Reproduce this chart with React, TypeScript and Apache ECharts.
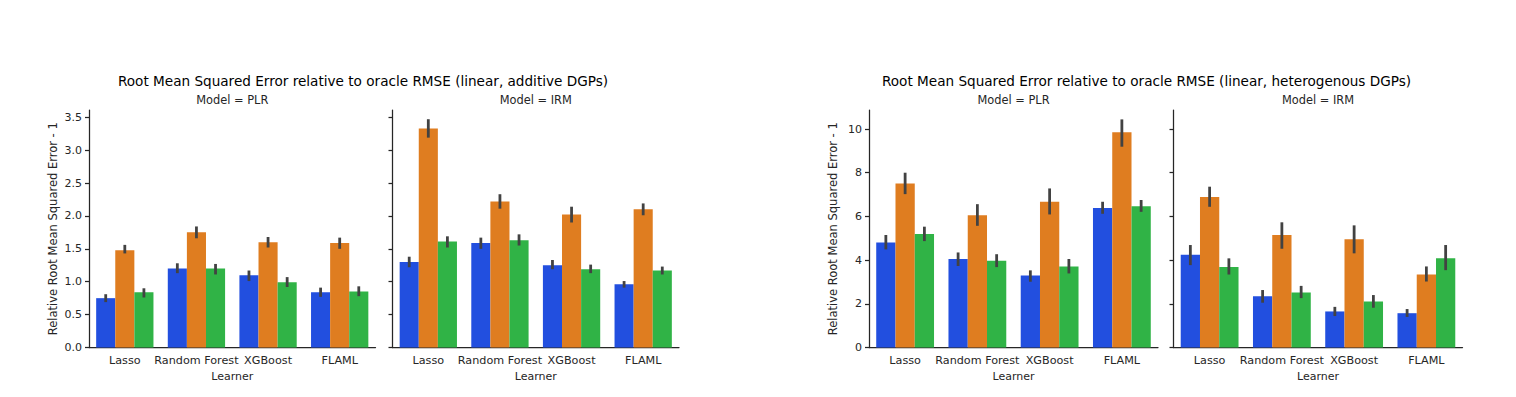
import React, { useEffect, useRef } from "react";
import * as echarts from "echarts";

const learners = ["Lasso", "Random Forest", "XGBoost", "FLAML"];
const hueNames = ["Group 1", "Group 2", "Group 3"];
const hueColors = ["#224fdf", "#df7d20", "#30b346"];

// additive DGPs, PLR
const addPlrMean = [
  [0.75, 1.2, 1.1, 0.84],
  [1.48, 1.75, 1.6, 1.59],
  [0.84, 1.2, 0.99, 0.85],
];
const addPlrLo = [
  [0.69, 1.13, 1.01, 0.77],
  [1.43, 1.66, 1.52, 1.5],
  [0.76, 1.11, 0.92, 0.78],
];
const addPlrHi = [
  [0.81, 1.28, 1.17, 0.91],
  [1.56, 1.84, 1.68, 1.67],
  [0.9, 1.27, 1.07, 0.93],
];
// additive DGPs, IRM
const addIrmMean = [
  [1.3, 1.59, 1.25, 0.96],
  [3.33, 2.22, 2.02, 2.1],
  [1.61, 1.63, 1.19, 1.17],
];
const addIrmLo = [
  [1.22, 1.5, 1.19, 0.91],
  [3.19, 2.11, 1.9, 2.01],
  [1.52, 1.55, 1.13, 1.11],
];
const addIrmHi = [
  [1.38, 1.67, 1.33, 1.01],
  [3.47, 2.33, 2.14, 2.19],
  [1.69, 1.72, 1.26, 1.23],
];
// heterogenous DGPs, PLR
const hetPlrMean = [
  [4.81, 4.05, 3.3, 6.38],
  [7.51, 6.05, 6.67, 9.85],
  [5.19, 3.97, 3.71, 6.46],
];
const hetPlrLo = [
  [4.49, 3.73, 3.01, 6.12],
  [7.02, 5.57, 6.09, 9.19],
  [4.87, 3.68, 3.39, 6.21],
];
const hetPlrHi = [
  [5.15, 4.35, 3.53, 6.67],
  [8.0, 6.56, 7.28, 10.44],
  [5.53, 4.27, 4.05, 6.75],
];
// heterogenous DGPs, IRM
const hetIrmMean = [
  [4.24, 2.34, 1.65, 1.57],
  [6.89, 5.15, 4.96, 3.34],
  [3.68, 2.52, 2.11, 4.09],
];
const hetIrmLo = [
  [3.77, 2.05, 1.44, 1.4],
  [6.44, 4.52, 4.31, 3.02],
  [3.34, 2.26, 1.82, 3.54],
];
const hetIrmHi = [
  [4.69, 2.63, 1.86, 1.76],
  [7.36, 5.73, 5.59, 3.71],
  [4.08, 2.82, 2.4, 4.69],
];

const leftTicks = [0, 0.5, 1, 1.5, 2, 2.5, 3, 3.5];
const rightTicks = [0, 2, 4, 6, 8, 10];

const titles = [
  "Root Mean Squared Error relative to oracle RMSE (linear, additive DGPs)",
  "Root Mean Squared Error relative to oracle RMSE (linear, heterogenous DGPs)",
];
const panelTitles = ["Model = PLR", "Model = IRM", "Model = PLR", "Model = IRM"];

const FONT = "DejaVu Sans";
const INK = "#262626";

export default function App() {
  const ref = useRef<HTMLDivElement>(null);
  useEffect(() => {
    document.body.style.margin = "0";
    const chart = echarts.init(ref.current!, null, { renderer: "svg" });

    const panels = [
      { left: 89, width: 286.5, mean: addPlrMean, lo: addPlrLo, hi: addPlrHi, max: 3.61, ticks: leftTicks, labels: true, dec: 1 },
      { left: 392.5, width: 286.5, mean: addIrmMean, lo: addIrmLo, hi: addIrmHi, max: 3.61, ticks: leftTicks, labels: false, dec: 1 },
      { left: 869, width: 289, mean: hetPlrMean, lo: hetPlrLo, hi: hetPlrHi, max: 10.87, ticks: rightTicks, labels: true, dec: 0 },
      { left: 1173.5, width: 289, mean: hetIrmMean, lo: hetIrmLo, hi: hetIrmHi, max: 10.87, ticks: rightTicks, labels: false, dec: 0 },
    ];

    const grid: any[] = [];
    const xAxis: any[] = [];
    const yAxis: any[] = [];
    const series: any[] = [];
    const graphic: any[] = [];

    panels.forEach((p, i) => {
      grid.push({ left: p.left, width: p.width, top: 110, bottom: 49.5 });
      xAxis.push({
        type: "category",
        gridIndex: i,
        data: learners,
        name: "Learner",
        nameLocation: "middle",
        nameGap: 23,
        nameTextStyle: { fontFamily: FONT, fontSize: 11, color: INK },
        axisLine: { lineStyle: { color: INK, width: 1.25 } },
        axisTick: { alignWithLabel: true, interval: 0, length: 4, lineStyle: { color: INK, width: 1.25 } },
        axisLabel: { interval: 0, hideOverlap: false, fontFamily: FONT, fontSize: 11.2, color: INK, margin: 7 },
        splitLine: { show: false },
      });
      yAxis.push({
        type: "value",
        gridIndex: i,
        min: 0,
        max: p.max,
        name: p.labels ? "Relative Root Mean Squared Error - 1" : "",
        nameLocation: "middle",
        nameRotate: 90,
        nameGap: 30,
        nameTextStyle: { fontFamily: FONT, fontSize: 11.5, color: INK },
        axisLine: { show: true, lineStyle: { color: INK, width: 1.25 } },
        axisTick: { show: true, length: 4, customValues: p.ticks, lineStyle: { color: INK, width: 1.25 } },
        axisLabel: {
          show: p.labels,
          customValues: p.ticks,
          fontFamily: FONT,
          fontSize: 11,
          color: INK,
          margin: 7,
          formatter: (v: number) => v.toFixed(p.dec),
        },
        splitLine: { show: false },
      });
      p.mean.forEach((vals, h) => {
        series.push({
          type: "bar",
          name: hueNames[h],
          xAxisIndex: i,
          yAxisIndex: i,
          data: vals,
          barGap: "0%",
          barCategoryGap: "20%",
          itemStyle: { color: hueColors[h] },
          z: 2,
        });
      });
      p.mean.forEach((_, h) => {
        const data = learners.map((_, c) => [c, p.lo[h][c], p.hi[h][c]]);
        series.push({
          type: "custom",
          name: hueNames[h] + " CI",
          xAxisIndex: i,
          yAxisIndex: i,
          data,
          z: 5,
          renderItem: (params: any, api: any) => {
            const c = api.value(0);
            const band = api.size([1, 0])[0];
            const off = (h - 1) * (band * 0.8) / 3;
            const p1 = api.coord([c, api.value(1)]);
            const p2 = api.coord([c, api.value(2)]);
            return {
              type: "line",
              shape: { x1: p1[0] + off, y1: p1[1], x2: p2[0] + off, y2: p2[1] },
              style: { stroke: "#424242", lineWidth: 2.8 },
            };
          },
        });
      });
      graphic.push({
        type: "text",
        x: p.left + p.width / 2,
        y: 100,
        style: {
          text: panelTitles[i],
          fontFamily: FONT,
          fontSize: 11.4,
          fill: INK,
          textAlign: "center",
          textVerticalAlign: "middle",
        },
      });
    });

    [363, 1146.5].forEach((cx, k) => {
      graphic.push({
        type: "text",
        x: cx,
        y: 81,
        style: {
          text: titles[k],
          fontFamily: FONT,
          fontSize: 13.6,
          fill: "#000",
          textAlign: "center",
          textVerticalAlign: "middle",
        },
      });
    });

    chart.setOption({
      animation: false,
      backgroundColor: "#fff",
      textStyle: { fontFamily: FONT },
      grid,
      xAxis,
      yAxis,
      series,
      graphic,
    });
    return () => chart.dispose();
  }, []);
  return <div ref={ref} style={{ width: 1516, height: 397 }} />;
}
